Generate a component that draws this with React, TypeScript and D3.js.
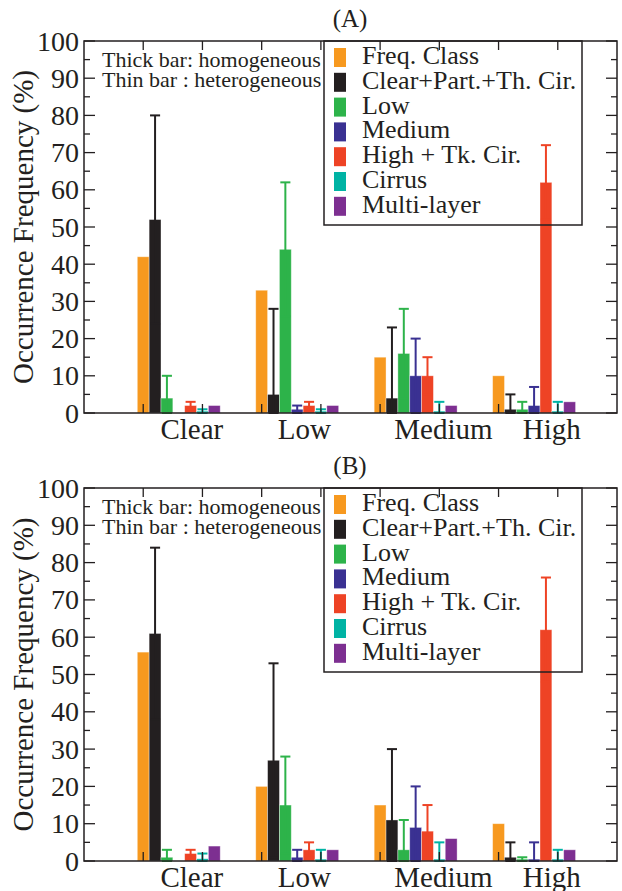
import React from 'react'
import * as d3 from 'd3'

const CATEGORIES = ['Clear', 'Low', 'Medium', 'High']
const CATEGORY_POS = [1.82, 3.72, 6.07, 7.9]
const SERIES = ['Freq. Class', 'Clear+Part.+Th. Cir.', 'Low', 'Medium', 'High + Tk. Cir.', 'Cirrus', 'Multi-layer']
const COLORS = ['#f7991f', '#231f20', '#2db34a', '#3a3192', '#ee4325', '#00b3a4', '#7d2f91']

// panel A: bar values per series (Clear, Low, Medium, High)
const A_VALUES = [
  [42, 33, 15, 10],
  [52, 5, 4, 1],
  [4, 44, 16, 1],
  [0, 1, 10, 2],
  [2, 2, 10, 62],
  [0.5, 0.5, 0.5, 0.5],
  [2, 2, 2, 3],
]
// panel A: top of error bars (null = none)
const A_ERR = [
  [null, null, null, null],
  [80, 28, 23, 5],
  [10, 62, 28, 3],
  [null, 2, 20, 7],
  [3, 3, 15, 72],
  [1, 1, 3, 3],
  [null, null, null, null],
]

const B_VALUES = [
  [56, 20, 15, 10],
  [61, 27, 11, 1],
  [1, 15, 3, 0.5],
  [0, 1, 9, 0.5],
  [2, 3, 8, 62],
  [0.6, 0.5, 0.5, 0.5],
  [4, 3, 6, 3],
]
const B_ERR = [
  [null, null, null, null],
  [84, 53, 30, 5],
  [3, 28, 11, 1],
  [null, 3, 20, 5],
  [3, 5, 15, 76],
  [2, 3, 5, 3],
  [null, null, null, null],
]

const Y_MAJOR = d3.range(0, 101, 10)
const Y_MINOR = d3.range(5, 100, 10)
const X_TICKS = d3.range(1, 9)

const LEFT = 84
const RIGHT = 617
const BAR_W = 0.2
const FONT = 'Liberation Serif'
const INK = '#231f20'

function Panel({ top, bottom, title, values, errs }: any) {
  const x = d3.scaleLinear().domain([0, 9]).range([LEFT, RIGHT])
  const y = d3.scaleLinear().domain([0, 100]).range([bottom, top])
  const bw = x(BAR_W) - x(0)
  const capW = x(0.17) - x(0)

  return (
    <g>
      <text x={350} y={top - 14} fontSize={25} textAnchor="middle" fontFamily={FONT} fill={INK}>{title}</text>

      {/* bars + error bars, set by set */}
      {SERIES.map((s, si) => (
        <g key={s}>
          {values[si].map((v: number, ci: number) => {
            const cx = x(2 * ci + 1 + si * BAR_W)
            const e = errs[si][ci]
            const lo = e == null ? 0 : Math.max(0, 2 * v - e)
            return (
              <g key={ci}>
                {v > 0 && (
                  <rect x={cx - bw / 2} y={y(v)} width={bw} height={y(0) - y(v)}
                    fill={COLORS[si]} stroke="#fff" strokeOpacity={0.45} strokeWidth={0.8} />
                )}
                {e != null && (
                  <g stroke={COLORS[si]} strokeWidth={2}>
                    <line x1={cx} x2={cx} y1={y(lo)} y2={y(e)} />
                    <line x1={cx - capW / 2} x2={cx + capW / 2} y1={y(e)} y2={y(e)} />
                    <line x1={cx - capW / 2} x2={cx + capW / 2} y1={y(lo)} y2={y(lo)} />
                  </g>
                )}
              </g>
            )
          })}
        </g>
      ))}

      {/* frame and ticks */}
      <rect x={LEFT} y={top} width={RIGHT - LEFT} height={bottom - top} fill="none" stroke={INK} strokeWidth={1.5} />
      {Y_MAJOR.map(t => (
        <g key={'M' + t} stroke={INK} strokeWidth={1.3}>
          <line x1={LEFT} x2={LEFT + 11} y1={y(t)} y2={y(t)} />
          <line x1={RIGHT} x2={RIGHT - 11} y1={y(t)} y2={y(t)} />
        </g>
      ))}
      {Y_MINOR.map(t => (
        <g key={'m' + t} stroke={INK} strokeWidth={1.3}>
          <line x1={LEFT} x2={LEFT + 6} y1={y(t)} y2={y(t)} />
          <line x1={RIGHT} x2={RIGHT - 6} y1={y(t)} y2={y(t)} />
        </g>
      ))}
      {X_TICKS.map(t => (
        <g key={'x' + t} stroke={INK} strokeWidth={1.3}>
          <line x1={x(t)} x2={x(t)} y1={top} y2={top + 9} />
          <line x1={x(t)} x2={x(t)} y1={bottom} y2={bottom - 9} />
        </g>
      ))}
      {Y_MAJOR.map(t => (
        <text key={'l' + t} x={LEFT - 5} y={y(t)} dy="0.34em" fontSize={28}
          textAnchor="end" fontFamily={FONT} fill={INK}>{t}</text>
      ))}
      {CATEGORIES.map((c, i) => (
        <text key={c} x={x(CATEGORY_POS[i])} y={bottom + 26} fontSize={29}
          textAnchor="middle" fontFamily={FONT} fill={INK}>{c}</text>
      ))}
      <text transform={`translate(33,${(top + bottom) / 2}) rotate(-90)`} fontSize={29}
        textAnchor="middle" fontFamily={FONT} fill={INK}>Occurrence Frequency (%)</text>

      <text x={102} y={top + 26} fontSize={22} fontFamily={FONT} fill={INK}>Thick bar: homogeneous</text>
      <text x={102} y={top + 46} fontSize={22} fontFamily={FONT} fill={INK}>Thin bar : heterogeneous</text>

      {/* legend */}
      <rect x={324} y={top} width={258} height={184} fill="none" stroke={INK} strokeWidth={1.5} />
      {SERIES.map((s, i) => {
        const by = top + 23 + i * 24.8
        return (
          <g key={'lg' + s}>
            <rect x={334} y={by - 16} width={12} height={19} fill={COLORS[i]} />
            <text x={362} y={by} fontSize={26} fontFamily={FONT} fill={INK}>{s}</text>
          </g>
        )
      })}
    </g>
  )
}

export default function App() {
  return (
    <div style={{ position: 'absolute', left: 0, top: 0, background: '#fff' }}>
      <svg width={622} height={891} style={{ display: 'block' }}>
        <rect width={622} height={891} fill="#fff" />
        <Panel top={41} bottom={413} title="(A)" values={A_VALUES} errs={A_ERR} />
        <Panel top={488} bottom={861} title="(B)" values={B_VALUES} errs={B_ERR} />
      </svg>
    </div>
  )
}
